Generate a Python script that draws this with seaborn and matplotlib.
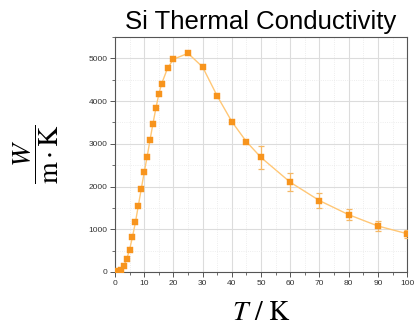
import numpy as np
import pandas as pd
import matplotlib
matplotlib.use("Agg")
import matplotlib.pyplot as plt
import seaborn as sns
from matplotlib.ticker import MultipleLocator

# --- data ---
temperature = [1, 2, 3, 4, 5, 6, 7, 8, 9, 10, 11, 12, 13, 14, 15, 16,
               18, 20, 25, 30, 35, 40, 45, 50, 60, 70, 80, 90, 100]
conductivity = [10, 40, 135, 295, 520, 820, 1160, 1550, 1940, 2330, 2690,
                3090, 3470, 3830, 4160, 4410, 4770, 4980, 5120, 4800, 4120,
                3520, 3050, 2680, 2100, 1670, 1340, 1075, 895]
error = [0, 0, 0, 0, 0, 0, 0, 0, 0, 0, 0, 0, 0, 0, 0, 0,
         0, 0, 0, 0, 0, 0, 0, 268, 210, 167, 134, 107, 90]

df = pd.DataFrame({"T": temperature, "k": conductivity, "err": error})

sns.set_style("white")
plt.rcParams["font.family"] = ["Liberation Sans", "DejaVu Sans"]
plt.rcParams["mathtext.fontset"] = "stix"
plt.rcParams["text.color"] = "black"
plt.rcParams["axes.labelcolor"] = "black"

fig = plt.figure(figsize=(4.15, 3.28), dpi=100)
ax = fig.add_axes([0.277, 0.171, 0.704, 0.716])

line_col = "#ffc776"
mark_col = "#f7941d"

sns.lineplot(data=df, x="T", y="k", color=line_col, linewidth=1.0, ax=ax, zorder=2)
eb = df[df["err"] > 0]
ax.errorbar(eb["T"], eb["k"], yerr=eb["err"], fmt="none", ecolor="#f5b866",
            elinewidth=0.9, capsize=2.5, capthick=0.9, zorder=3)
sns.scatterplot(data=df, x="T", y="k", marker="s", s=14, color=mark_col,
                edgecolor=mark_col, linewidth=0.3, ax=ax, zorder=4)

ax.set_xlim(0, 100)
ax.set_ylim(0, 5500)
ax.xaxis.set_major_locator(MultipleLocator(10))
ax.xaxis.set_minor_locator(MultipleLocator(5))
ax.yaxis.set_major_locator(MultipleLocator(1000))
ax.yaxis.set_minor_locator(MultipleLocator(500))

ax.grid(True, which="major", color="#dcdcdc", linewidth=0.8)
ax.grid(True, which="minor", color="#e8e8e8", linewidth=0.6, linestyle=":")
ax.set_axisbelow(True)

for side in ["top", "right", "left", "bottom"]:
    ax.spines[side].set_color("#555555")
    ax.spines[side].set_linewidth(0.8)

ax.tick_params(which="major", direction="out", length=3.5, width=0.7,
               color="#555555", labelsize=6, labelcolor="#333333",
               bottom=True, left=True, top=False, right=False, pad=2)
ax.tick_params(which="minor", direction="out", length=2, width=0.6,
               color="#555555", bottom=True, left=True, top=False, right=False)

ax.set_title("Si Thermal Conductivity", fontsize=18.5, pad=6, color="black")
ax.set_xlabel(r"$T\ /\ \mathrm{K}$", fontsize=20, labelpad=10)
ax.set_ylabel(r"$\dfrac{W}{\mathrm{m\cdot K}}$", fontsize=20, labelpad=20)

fig.savefig("out.png", dpi=100)
